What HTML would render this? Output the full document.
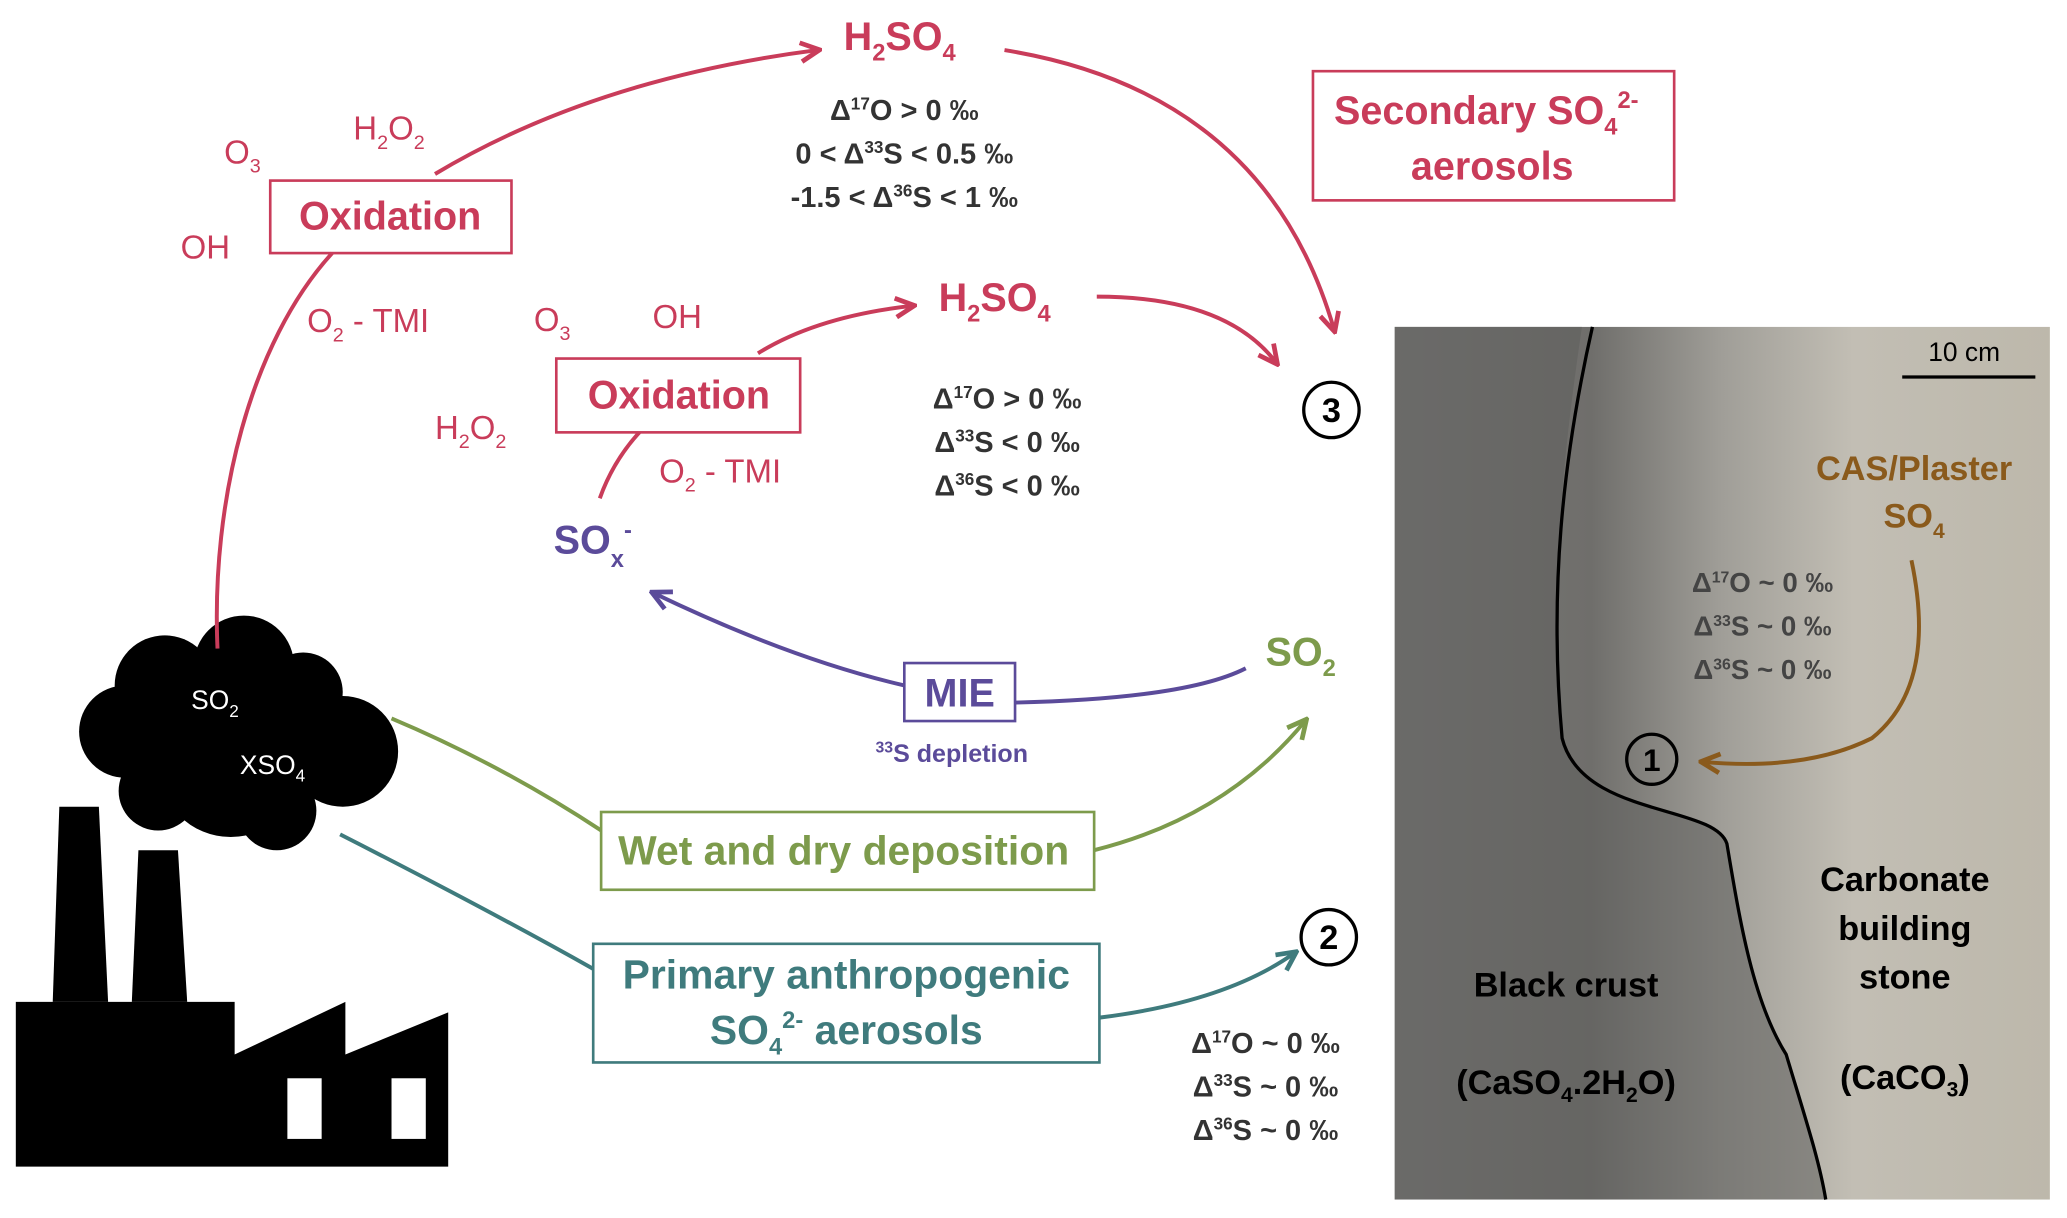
<!DOCTYPE html>
<html><head><meta charset="utf-8"><style>
html,body{margin:0;padding:0;background:#fff;}
svg{display:block;}
text{font-family:"Liberation Sans",sans-serif;}
</style></head><body>
<svg width="2067" height="1218" viewBox="0 0 1568 924" preserveAspectRatio="none" xmlns="http://www.w3.org/2000/svg">
<defs>
<marker id="ar" viewBox="0 0 10 10" refX="8" refY="5" markerWidth="6" markerHeight="6" orient="auto"><path d="M1,1 L9,5 L1,9" fill="none" stroke="#c93c5a" stroke-width="2"/></marker>
<marker id="ap" viewBox="0 0 10 10" refX="8" refY="5" markerWidth="6" markerHeight="6" orient="auto"><path d="M1,1 L9,5 L1,9" fill="none" stroke="#5b4b9a" stroke-width="2"/></marker>
<marker id="ag" viewBox="0 0 10 10" refX="8" refY="5" markerWidth="6" markerHeight="6" orient="auto"><path d="M1,1 L9,5 L1,9" fill="none" stroke="#7d9b4c" stroke-width="2"/></marker>
<marker id="at" viewBox="0 0 10 10" refX="8" refY="5" markerWidth="6" markerHeight="6" orient="auto"><path d="M1,1 L9,5 L1,9" fill="none" stroke="#3f7b7d" stroke-width="2"/></marker>
<marker id="ab" viewBox="0 0 10 10" refX="8" refY="5" markerWidth="6" markerHeight="6" orient="auto"><path d="M1,1 L9,5 L1,9" fill="none" stroke="#8a5a1c" stroke-width="2"/></marker>
<linearGradient id="ph" x1="0" x2="1" y1="0" y2="0">
<stop offset="0" stop-color="#7a7977"/><stop offset="0.3" stop-color="#6f6e6b"/><stop offset="0.5" stop-color="#a09e98"/><stop offset="0.7" stop-color="#c2beb4"/><stop offset="1" stop-color="#bdb8ab"/></linearGradient>
</defs>

<!-- factory -->
<g fill="#000">
<polygon points="45,612 75,612 82,760 40,760"/>
<polygon points="105,645 135,645 142,760 100,760"/>
<polygon points="12,760 178,760 178,800 262,760 262,800 340,768 340,885 12,885"/>
<circle cx="125" cy="520" r="38"/><circle cx="185" cy="505" r="38"/><circle cx="230" cy="525" r="30"/>
<circle cx="95" cy="555" r="35"/><circle cx="260" cy="570" r="42"/><circle cx="175" cy="580" r="55"/>
<circle cx="120" cy="600" r="30"/><circle cx="210" cy="615" r="30"/>
</g>
<rect x="218" y="818" width="26" height="46" fill="#fff"/>
<rect x="297" y="818" width="26" height="46" fill="#fff"/>
<text x="145" y="538" font-size="20" fill="#fff">SO<tspan font-size="13" dy="6">2</tspan></text>
<text x="182" y="587" font-size="20" fill="#fff">XSO<tspan font-size="13" dy="6">4</tspan></text>

<!-- red upper -->
<g fill="none" stroke="#c93c5a" stroke-width="3">
<path d="M165,492 C160,380 190,260 252,192"/>
<path d="M330,132 Q450,60 620,38" marker-end="url(#ar)"/>
<path d="M762,38 Q960,70 1012,250" marker-end="url(#ar)"/>
<path d="M455,378 Q465,350 485,328"/>
<path d="M575,268 Q620,240 692,232" marker-end="url(#ar)"/>
<path d="M832,225 Q930,225 968,275" marker-end="url(#ar)"/>
<rect x="205" y="137" width="183" height="55" stroke-width="2"/>
<rect x="422" y="272" width="185" height="56" stroke-width="2"/>
<rect x="996" y="54" width="274" height="98" stroke-width="2"/>
</g>
<g fill="#c93c5a" font-weight="bold">
<text x="296" y="174" font-size="30" text-anchor="middle">Oxidation</text>
<text x="515" y="310" font-size="30" text-anchor="middle">Oxidation</text>
<text x="640" y="38" font-size="30">H<tspan font-size="18" dy="8">2</tspan><tspan dy="-8">SO</tspan><tspan font-size="18" dy="8">4</tspan></text>
<text x="712" y="236" font-size="30">H<tspan font-size="18" dy="8">2</tspan><tspan dy="-8">SO</tspan><tspan font-size="18" dy="8">4</tspan></text>
<text x="1012" y="94" font-size="30">Secondary SO<tspan font-size="18" dy="8">4</tspan><tspan font-size="18" dy="-20">2-</tspan></text>
<text x="1132" y="136" font-size="30" text-anchor="middle">aerosols</text>
</g>
<g fill="#c93c5a" font-size="25">
<text x="170" y="124">O<tspan font-size="15" dy="7">3</tspan></text>
<text x="268" y="106">H<tspan font-size="15" dy="7">2</tspan><tspan dy="-7">O</tspan><tspan font-size="15" dy="7">2</tspan></text>
<text x="137" y="196">OH</text>
<text x="233" y="252">O<tspan font-size="15" dy="7">2</tspan><tspan dy="-7"> - TMI</tspan></text>
<text x="405" y="251">O<tspan font-size="15" dy="7">3</tspan></text>
<text x="495" y="249">OH</text>
<text x="330" y="333">H<tspan font-size="15" dy="7">2</tspan><tspan dy="-7">O</tspan><tspan font-size="15" dy="7">2</tspan></text>
<text x="500" y="366">O<tspan font-size="15" dy="7">2</tspan><tspan dy="-7"> - TMI</tspan></text>
</g>

<!-- delta texts -->
<g fill="#333" font-size="22" font-weight="bold" text-anchor="middle">
<text x="686" y="91">Δ<tspan font-size="13" dy="-8">17</tspan><tspan dy="8">O &gt; 0 ‰</tspan></text>
<text x="686" y="124">0 &lt; Δ<tspan font-size="13" dy="-8">33</tspan><tspan dy="8">S &lt; 0.5 ‰</tspan></text>
<text x="686" y="157">-1.5 &lt; Δ<tspan font-size="13" dy="-8">36</tspan><tspan dy="8">S &lt; 1 ‰</tspan></text>
<text x="764" y="310">Δ<tspan font-size="13" dy="-8">17</tspan><tspan dy="8">O &gt; 0 ‰</tspan></text>
<text x="764" y="343">Δ<tspan font-size="13" dy="-8">33</tspan><tspan dy="8">S &lt; 0 ‰</tspan></text>
<text x="764" y="376">Δ<tspan font-size="13" dy="-8">36</tspan><tspan dy="8">S &lt; 0 ‰</tspan></text>
<text x="960" y="799">Δ<tspan font-size="13" dy="-8">17</tspan><tspan dy="8">O ~ 0 ‰</tspan></text>
<text x="960" y="832">Δ<tspan font-size="13" dy="-8">33</tspan><tspan dy="8">S ~ 0 ‰</tspan></text>
<text x="960" y="865">Δ<tspan font-size="13" dy="-8">36</tspan><tspan dy="8">S ~ 0 ‰</tspan></text>
</g>

<!-- circles -->
<g fill="#fff" stroke="#000" stroke-width="2.5">
<circle cx="1010" cy="311" r="21"/><circle cx="1008" cy="711" r="21"/>
</g>
<g font-size="26" font-weight="bold" text-anchor="middle" fill="#000">
<text x="1010" y="320">3</text><text x="1008" y="720">2</text>
</g>

<!-- purple -->
<path d="M945,507 Q900,530 770,533" fill="none" stroke="#5b4b9a" stroke-width="3"/>
<path d="M686,520 Q600,500 496,450" fill="none" stroke="#5b4b9a" stroke-width="3" marker-end="url(#ap)"/>
<rect x="686" y="503" width="84" height="44" fill="#fff" stroke="#5b4b9a" stroke-width="2"/>
<text x="728" y="536" font-size="30" font-weight="bold" fill="#5b4b9a" text-anchor="middle">MIE</text>
<text x="722" y="578" font-size="19" font-weight="bold" fill="#5b4b9a" text-anchor="middle"><tspan font-size="12" dy="-7">33</tspan><tspan dy="7">S depletion</tspan></text>
<text x="420" y="420" font-size="30" font-weight="bold" fill="#5b4b9a">SO<tspan font-size="18" dy="10">x</tspan><tspan font-size="18" dy="-22">-</tspan></text>

<!-- green -->
<path d="M297,545 Q380,580 456,630" fill="none" stroke="#7d9b4c" stroke-width="3"/>
<path d="M830,645 Q930,620 990,547" fill="none" stroke="#7d9b4c" stroke-width="3" marker-end="url(#ag)"/>
<rect x="456" y="616" width="374" height="59" fill="#fff" stroke="#7d9b4c" stroke-width="2"/>
<text x="640" y="656" font-size="31" font-weight="bold" fill="#7d9b4c" text-anchor="middle">Wet and dry deposition</text>
<text x="960" y="505" font-size="30" font-weight="bold" fill="#7d9b4c">SO<tspan font-size="18" dy="8">2</tspan></text>

<!-- teal -->
<path d="M258,633 Q370,690 450,735" fill="none" stroke="#3f7b7d" stroke-width="3"/>
<path d="M834,772 Q930,760 982,723" fill="none" stroke="#3f7b7d" stroke-width="3" marker-end="url(#at)"/>
<rect x="450" y="716" width="384" height="90" fill="#fff" stroke="#3f7b7d" stroke-width="2"/>
<text x="642" y="750" font-size="31" font-weight="bold" fill="#3f7b7d" text-anchor="middle">Primary anthropogenic</text>
<text x="642" y="792" font-size="31" font-weight="bold" fill="#3f7b7d" text-anchor="middle">SO<tspan font-size="18" dy="8">4</tspan><tspan font-size="18" dy="-20">2-</tspan><tspan dy="12"> aerosols</tspan></text>

<!-- photo -->
<rect x="1058" y="248" width="497" height="662" fill="url(#ph)"/>
<path d="M1058,248 L1200,248 C1185,350 1175,450 1185,560 C1200,620 1300,610 1310,640 C1320,700 1330,760 1355,800 C1370,850 1380,880 1385,910 L1058,910Z" fill="#5f5e5c" opacity="0.55"/>
<path d="M1208,248 C1185,350 1175,450 1185,560 C1200,620 1300,610 1310,640 C1320,700 1330,760 1355,800 C1370,850 1380,880 1385,910" fill="none" stroke="#000" stroke-width="2.5"/>
<line x1="1443" y1="286" x2="1544" y2="286" stroke="#000" stroke-width="2.5"/>
<text x="1490" y="274" font-size="20" text-anchor="middle" fill="#000">10 cm</text>
<text x="1452" y="364" font-size="26" font-weight="bold" fill="#8a5a1c" text-anchor="middle">CAS/Plaster</text>
<text x="1452" y="400" font-size="26" font-weight="bold" fill="#8a5a1c" text-anchor="middle">SO<tspan font-size="16" dy="8">4</tspan></text>
<path d="M1450,425 Q1470,520 1420,560 Q1370,585 1292,578" fill="none" stroke="#8a5a1c" stroke-width="3" marker-end="url(#ab)"/>
<g fill="#444" font-size="21" font-weight="bold" text-anchor="middle">
<text x="1337" y="449">Δ<tspan font-size="12" dy="-7">17</tspan><tspan dy="7">O ~ 0 ‰</tspan></text>
<text x="1337" y="482">Δ<tspan font-size="12" dy="-7">33</tspan><tspan dy="7">S ~ 0 ‰</tspan></text>
<text x="1337" y="515">Δ<tspan font-size="12" dy="-7">36</tspan><tspan dy="7">S ~ 0 ‰</tspan></text>
</g>
<circle cx="1253" cy="576" r="19" fill="none" stroke="#000" stroke-width="2.5"/>
<text x="1253" y="585" font-size="24" font-weight="bold" text-anchor="middle">1</text>
<g fill="#000" font-size="26" font-weight="bold" text-anchor="middle">
<text x="1445" y="676">Carbonate</text>
<text x="1445" y="713">building</text>
<text x="1445" y="750">stone</text>
<text x="1445" y="826">(CaCO<tspan font-size="16" dy="6">3</tspan><tspan dy="-6">)</tspan></text>
<text x="1188" y="756">Black crust</text>
<text x="1188" y="830">(CaSO<tspan font-size="16" dy="6">4</tspan><tspan dy="-6">.2H</tspan><tspan font-size="16" dy="6">2</tspan><tspan dy="-6">O)</tspan></text>
</g>
</svg>
</body></html>
